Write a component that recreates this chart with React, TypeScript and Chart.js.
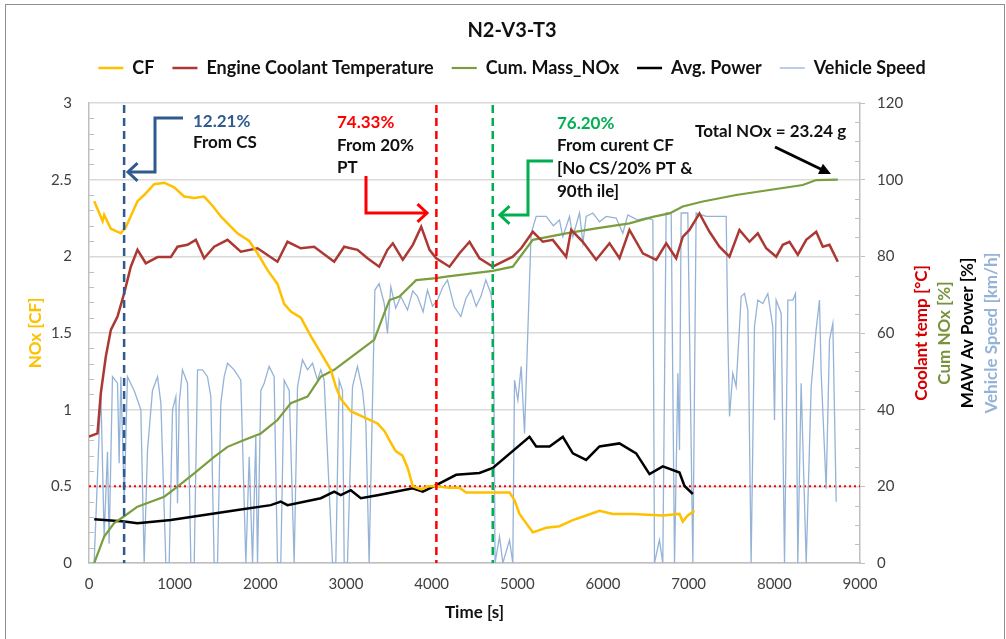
import React, { useEffect, useRef } from 'react';
import { Chart, registerables } from 'chart.js';

Chart.register(...registerables);

const FONT = 'Lato, "Open Sans", sans-serif';

// ---- Data (time in s) ----
const cfTime = [61, 158, 177, 255, 371, 430, 566, 644, 761, 878, 994, 1111, 1228, 1344, 1442, 1539, 1733, 1870, 1967, 2084, 2200, 2278, 2356, 2473, 2589, 2706, 2823, 2881, 2939, 3056, 3212, 3368, 3450, 3508, 3580, 3660, 3720, 3780, 3878, 3960, 4053, 4200, 4325, 4403, 4909, 4967, 5025, 5103, 5181, 5337, 5492, 5648, 5804, 5959, 6115, 6348, 6698, 6893, 6931, 6990, 7068];
const cfValue = [2.36, 2.23, 2.27, 2.18, 2.15, 2.19, 2.36, 2.4, 2.47, 2.48, 2.45, 2.39, 2.38, 2.39, 2.33, 2.26, 2.15, 2.1, 2.02, 1.91, 1.82, 1.69, 1.64, 1.6, 1.48, 1.37, 1.26, 1.15, 1.07, 0.99, 0.95, 0.91, 0.86, 0.8, 0.73, 0.7, 0.62, 0.5, 0.48, 0.5, 0.5, 0.49, 0.49, 0.46, 0.46, 0.41, 0.32, 0.26, 0.2, 0.23, 0.24, 0.28, 0.31, 0.34, 0.32, 0.32, 0.31, 0.32, 0.27, 0.31, 0.34];

const coolantTime = [0, 99, 138, 196, 255, 333, 411, 488, 566, 663, 800, 955, 1033, 1150, 1247, 1344, 1461, 1617, 1772, 1967, 2200, 2317, 2473, 2628, 2862, 2979, 3134, 3251, 3387, 3484, 3547, 3663, 3780, 3878, 3975, 4053, 4208, 4325, 4442, 4558, 4714, 4947, 5045, 5181, 5298, 5414, 5570, 5629, 5764, 5920, 6076, 6193, 6309, 6465, 6621, 6738, 6854, 6931, 7009, 7126, 7243, 7359, 7476, 7593, 7710, 7807, 7905, 8022, 8099, 8177, 8274, 8372, 8489, 8566, 8644, 8741];
const coolantValue = [33.0, 33.8, 44.3, 53.8, 60.8, 64.3, 70.4, 77.3, 81.7, 78.2, 79.8, 79.8, 82.5, 83.0, 84.3, 79.5, 82.5, 84.3, 81.2, 82.1, 78.6, 83.8, 82.1, 82.5, 78.6, 82.5, 81.7, 79.5, 77.3, 81.7, 83.4, 79.1, 83.0, 87.7, 81.7, 79.5, 77.3, 80.8, 83.8, 79.5, 77.3, 79.9, 82.1, 86.4, 83.8, 84.3, 79.9, 86.9, 83.8, 79.1, 83.4, 79.5, 86.9, 80.8, 79.1, 83.4, 79.5, 85.1, 86.9, 91.2, 86.4, 82.5, 79.9, 86.9, 83.8, 86.0, 82.1, 79.9, 83.0, 83.8, 80.4, 84.3, 86.4, 82.5, 83.0, 78.6];

const cumNoxTime = [61, 119, 177, 294, 411, 566, 722, 878, 1033, 1228, 1461, 1617, 1811, 2006, 2200, 2356, 2551, 2706, 2862, 3017, 3173, 3329, 3446, 3508, 3624, 3819, 4055, 4170, 4713, 4947, 5064, 5181, 5570, 5920, 6309, 6581, 6776, 6931, 7165, 7554, 7943, 8332, 8489, 8741];
const cumNoxValue = [0, 3.4, 6.9, 10.4, 12.2, 14.7, 16.0, 17.3, 19.9, 23.4, 27.7, 30.3, 32.1, 33.8, 37.3, 41.7, 43.4, 48.6, 50.4, 53.0, 55.6, 58.2, 65.1, 68.6, 69.5, 73.8, 74.3, 74.7, 76.2, 77.3, 80.8, 84.3, 86.0, 87.3, 88.6, 90.3, 91.2, 93.0, 94.3, 96.0, 97.3, 98.6, 99.9, 100];

const powerTime = [61, 411, 566, 955, 1344, 1733, 2122, 2239, 2317, 2706, 2862, 2939, 3056, 3173, 3368, 3780, 3897, 4053, 4286, 4558, 4714, 5142, 5220, 5376, 5531, 5648, 5803, 5959, 6192, 6387, 6543, 6698, 6893, 6951, 7049];
const powerValue = [11.4, 10.8, 10.4, 11.2, 12.5, 13.8, 15.1, 16.0, 15.1, 16.9, 18.6, 17.7, 19.0, 16.9, 17.7, 19.5, 18.6, 20.3, 23.0, 23.5, 24.8, 32.9, 30.4, 30.4, 32.9, 28.6, 26.9, 30.4, 31.2, 28.6, 23.2, 25.2, 23.6, 20.1, 18.0];

const speedTime = [0, 60, 138, 177, 216, 235, 274, 333, 352, 372, 411, 449, 527, 605, 644, 683, 741, 800, 839, 897, 936, 975, 1014, 1033, 1053, 1091, 1150, 1189, 1228, 1267, 1325, 1383, 1422, 1461, 1500, 1539, 1578, 1617, 1695, 1772, 1831, 1870, 1909, 1947, 1967, 2006, 2045, 2103, 2161, 2200, 2239, 2278, 2337, 2395, 2434, 2492, 2551, 2609, 2667, 2706, 2745, 2842, 2881, 2920, 2959, 2979, 3017, 3076, 3134, 3193, 3232, 3270, 3309, 3337, 3387, 3446, 3484, 3523, 3580, 3640, 3718, 3780, 3835, 3900, 3951, 4010, 4068, 4130, 4185, 4263, 4340, 4400, 4457, 4520, 4574, 4632, 4691, 4722, 4740, 4792, 4831, 4909, 4947, 4967, 5006, 5045, 5084, 5122, 5161, 5220, 5337, 5420, 5492, 5531, 5609, 5648, 5726, 5765, 5803, 5881, 5960, 6037, 6154, 6231, 6290, 6400, 6504, 6582, 6601, 6659, 6698, 6737, 6796, 6835, 6874, 6893, 6912, 6990, 7049, 7087, 7204, 7360, 7438, 7457, 7477, 7515, 7554, 7613, 7652, 7691, 7729, 7768, 7807, 7866, 7924, 7982, 8002, 8021, 8080, 8119, 8158, 8216, 8247, 8274, 8313, 8372, 8430, 8488, 8527, 8547, 8605, 8644, 8683, 8722];
const speedValue = [0, 0, 45, 7, 29, 5, 48.6, 46.9, 26, 48.6, 16.4, 48.6, 45, 40, 0, 29.4, 45, 48.6, 41.7, 0, 0, 40, 43.4, 15.6, 41.7, 50.4, 46.9, 0, 0, 50.4, 50.4, 48.6, 43.4, 0, 0, 41.7, 48.6, 52.1, 50.4, 47.7, 0, 27.7, 0, 32.9, 0, 45, 46.9, 51.3, 48.6, 0, 0, 47.7, 45, 0, 46, 53, 50.4, 52.1, 47.7, 50.4, 47.7, 0, 0, 47.7, 45, 0, 0, 46, 51.3, 45, 36.4, 0, 41.7, 71.2, 72.9, 67.7, 59.9, 72.1, 66.5, 69.5, 66, 71, 69.5, 65.5, 71.2, 67, 68.6, 72, 73.8, 66.9, 64.3, 69, 71.2, 67, 69.5, 73.8, 70.3, 64.3, 0, 6.9, 0, 6, 0, 47.7, 42.5, 51.3, 33.8, 60, 86, 90.4, 90.4, 88, 89.5, 85.1, 90.4, 85.1, 91.3, 83.4, 90.4, 91.3, 89, 90.4, 90, 86, 90.8, 89.5, 90, 89.5, 0, 6, 0, 91.3, 91.3, 0, 49.5, 29.5, 91.3, 91.3, 0, 91.3, 90.4, 90.4, 90.4, 60, 38.2, 49.5, 46, 69.5, 70.3, 66, 0, 61.6, 68.6, 67.7, 70.3, 61.6, 37.3, 68.6, 65.1, 0, 68.6, 68.6, 70.3, 0, 46.9, 0, 46, 60.8, 68.6, 49.5, 19.4, 58.2, 62.5, 16];

const xTickValues = [0, 1000, 2000, 3000, 4000, 5000, 6000, 7000, 8000, 9000];
const leftTickValues = [0, 0.5, 1, 1.5, 2, 2.5, 3];
const rightTickValues = [0, 20, 40, 60, 80, 100, 120];

// marker times / reference level
const csLineTime = 410;
const ptLineTime = 4055;
const cfLineTime = 4713;
const cfLimit = 0.5;

const toPoints = (ts: number[], vs: number[]) => ts.map((t, i) => ({ x: t, y: vs[i] }));

function drawChevronPath(ctx: CanvasRenderingContext2D, pts: number[][], color: string) {
  ctx.save();
  ctx.strokeStyle = color;
  ctx.lineWidth = 3;
  ctx.lineJoin = 'miter';
  ctx.beginPath();
  ctx.moveTo(pts[0][0], pts[0][1]);
  for (let i = 1; i < pts.length; i++) ctx.lineTo(pts[i][0], pts[i][1]);
  ctx.stroke();
  const [x1, y1] = pts[pts.length - 2];
  const [x2, y2] = pts[pts.length - 1];
  const a = Math.atan2(y2 - y1, x2 - x1);
  const L = 13;
  ctx.beginPath();
  ctx.moveTo(x2 - L * Math.cos(a - 0.75), y2 - L * Math.sin(a - 0.75));
  ctx.lineTo(x2, y2);
  ctx.lineTo(x2 - L * Math.cos(a + 0.75), y2 - L * Math.sin(a + 0.75));
  ctx.stroke();
  ctx.restore();
}

const annotationPlugin = {
  id: 'annotations',
  beforeDatasetsDraw(chart: any) {
    const { ctx, chartArea: ca, scales } = chart;
    ctx.save();
    // minor ticks
    ctx.strokeStyle = '#BFBFBF';
    ctx.lineWidth = 1;
    for (let k = 1; k < 30; k++) {
      if (k % 5 === 0) continue;
      const y = Math.round(scales.y.getPixelForValue(k / 10)) + 0.5;
      ctx.beginPath();
      ctx.moveTo(ca.left, y);
      ctx.lineTo(ca.left + 5, y);
      ctx.stroke();
    }
    for (let v = 5; v < 120; v += 5) {
      if (v % 20 === 0) continue;
      const y = Math.round(scales.y1.getPixelForValue(v)) + 0.5;
      ctx.beginPath();
      ctx.moveTo(ca.right - 5, y);
      ctx.lineTo(ca.right, y);
      ctx.stroke();
    }
    // CF limit dotted line
    const yl = scales.y.getPixelForValue(cfLimit);
    ctx.strokeStyle = '#FF0000';
    ctx.lineWidth = 2;
    ctx.setLineDash([2, 3]);
    ctx.beginPath();
    ctx.moveTo(ca.left, yl);
    ctx.lineTo(ca.right, yl);
    ctx.stroke();
    ctx.restore();
  },
  afterDatasetsDraw(chart: any) {
    const { ctx, chartArea: ca, scales } = chart;
    ctx.save();
    const vlines = [
      { t: csLineTime, color: '#2F5A8F' },
      { t: ptLineTime, color: '#FF0000' },
      { t: cfLineTime, color: '#00B050' },
    ];
    ctx.lineWidth = 2.5;
    ctx.setLineDash([8, 5]);
    vlines.forEach((l) => {
      const x = scales.x.getPixelForValue(l.t);
      ctx.strokeStyle = l.color;
      ctx.beginPath();
      ctx.moveTo(x, ca.top + 2);
      ctx.lineTo(x, ca.bottom);
      ctx.stroke();
    });
    ctx.setLineDash([]);
    ctx.restore();

    drawChevronPath(ctx, [[183, 118], [155, 118], [155, 172], [128, 172]], '#2F5A8F');
    drawChevronPath(ctx, [[366, 176], [366, 213], [427, 213]], '#FF0000');
    drawChevronPath(ctx, [[553, 161], [528, 161], [528, 215], [500, 215]], '#00B050');

    // black arrow
    ctx.save();
    ctx.strokeStyle = '#000';
    ctx.fillStyle = '#000';
    ctx.lineWidth = 3;
    const sx = 775, sy = 147, tx = 831, ty = 174;
    const a = Math.atan2(ty - sy, tx - sx);
    const hl = 13;
    ctx.beginPath();
    ctx.moveTo(sx, sy);
    ctx.lineTo(tx - hl * Math.cos(a) * 0.8, ty - hl * Math.sin(a) * 0.8);
    ctx.stroke();
    ctx.beginPath();
    ctx.moveTo(tx, ty);
    ctx.lineTo(tx - hl * Math.cos(a - 0.45), ty - hl * Math.sin(a - 0.45));
    ctx.lineTo(tx - hl * Math.cos(a + 0.45), ty - hl * Math.sin(a + 0.45));
    ctx.closePath();
    ctx.fill();
    ctx.restore();

    // texts
    ctx.save();
    ctx.font = `bold 17px ${FONT}`;
    ctx.textAlign = 'left';
    ctx.textBaseline = 'middle';
    const texts: [string, number, number, string][] = [
      ['12.21%', 193, 122, '#2F5A8F'],
      ['From CS', 193, 143, '#111'],
      ['74.33%', 337, 123, '#FF0000'],
      ['From 20%', 337, 146, '#111'],
      ['PT', 337, 168, '#111'],
      ['76.20%', 557, 124, '#00B050'],
      ['From curent CF', 557, 146, '#111'],
      ['[No CS/20% PT &', 557, 169, '#111'],
      ['90th ile]', 557, 192, '#111'],
      ['Total NOx = 23.24 g', 695, 132, '#111'],
    ];
    texts.forEach(([s, x, y, c]) => {
      ctx.fillStyle = c;
      ctx.fillText(s, x, y);
    });
    ctx.restore();
  },
  afterDraw(chart: any) {
    const { ctx, chartArea: ca } = chart;
    const cy = (ca.top + ca.bottom) / 2;
    const titles: [string, string, number][] = [
      ['Coolant temp [°C]', '#D40000', 62],
      ['Cum NOx [%]', '#77933C', 85],
      ['MAW Av Power [%]', '#000000', 108],
      ['Vehicle Speed [km/h]', '#95B3D7', 132],
    ];
    ctx.save();
    ctx.font = `bold 17px ${FONT}`;
    ctx.textAlign = 'center';
    ctx.textBaseline = 'middle';
    titles.forEach(([s, c, dx]) => {
      ctx.save();
      ctx.translate(ca.right + dx, cy);
      ctx.rotate(-Math.PI / 2);
      ctx.fillStyle = c;
      ctx.fillText(s, 0, 0);
      ctx.restore();
    });
    ctx.restore();
  },
};

export default function App() {
  const ref = useRef<HTMLCanvasElement | null>(null);

  useEffect(() => {
    if (!ref.current) return;
    const tickFont = { family: FONT, size: 15 };
    const titleFont = { family: FONT, size: 17, weight: 'bold' as const };
    const plain = (v: any) => String(v);
    const chart = new Chart(ref.current, {
      type: 'line',
      data: {
        datasets: [
          { label: 'CF', data: toPoints(cfTime, cfValue), borderColor: '#FFC000', backgroundColor: '#FFC000', borderWidth: 2.5, yAxisID: 'y', pointRadius: 0 },
          { label: 'Engine Coolant Temperature', data: toPoints(coolantTime, coolantValue), borderColor: '#AC3833', backgroundColor: '#AC3833', borderWidth: 2.5, yAxisID: 'y1', pointRadius: 0 },
          { label: 'Cum. Mass_NOx', data: toPoints(cumNoxTime, cumNoxValue), borderColor: '#7A9E3E', backgroundColor: '#7A9E3E', borderWidth: 2.2, yAxisID: 'y1', pointRadius: 0 },
          { label: 'Avg. Power', data: toPoints(powerTime, powerValue), borderColor: '#000000', backgroundColor: '#000000', borderWidth: 2.5, yAxisID: 'y1', pointRadius: 0 },
          { label: 'Vehicle Speed', data: toPoints(speedTime, speedValue), borderColor: '#95B3D7', backgroundColor: '#95B3D7', borderWidth: 1.3, yAxisID: 'y1', pointRadius: 0 },
        ],
      },
      options: {
        animation: false,
        responsive: false,
        maintainAspectRatio: false,
        layout: { padding: { left: 18, right: 0, top: 0, bottom: 0 } },
        plugins: {
          title: { display: true, text: 'N2-V3-T3', color: '#111', font: { family: FONT, size: 20, weight: 'bold', lineHeight: 1 }, padding: { top: 21, bottom: 0 } },
          subtitle: { display: true, text: '', weight: 500, padding: 0, font: { size: 16, lineHeight: 1 } } as any,
          legend: {
            display: true,
            position: 'top',
            labels: { usePointStyle: true, pointStyle: 'line', pointStyleWidth: 25, padding: 18, color: '#111', font: { family: FONT, size: 18, weight: 'bold' } },
          },
          tooltip: { enabled: false },
        },
        scales: {
          x: {
            type: 'linear',
            min: 0,
            max: 9000,
            afterBuildTicks: (s: any) => { s.ticks = xTickValues.map((v) => ({ value: v })); },
            afterFit: (s: any) => { s.height = 76; },
            grid: { display: false, drawTicks: false },
            border: { display: true, color: '#BFBFBF', width: 1.5 },
            ticks: { padding: 12, color: '#404040', font: tickFont, maxRotation: 0, autoSkip: false, callback: plain },
            title: { display: true, text: 'Time [s]', color: '#111', font: titleFont, padding: { top: 0, bottom: 16 } },
          },
          y: {
            position: 'left',
            min: 0,
            max: 3,
            afterBuildTicks: (s: any) => { s.ticks = leftTickValues.map((v) => ({ value: v })); },
            afterFit: (s: any) => { s.width = 71; },
            grid: { color: '#D9D9D9', lineWidth: 1.5, drawTicks: false },
            border: { display: true, color: '#BFBFBF', width: 1.5 },
            ticks: { padding: 17, color: '#404040', font: tickFont, callback: plain },
            title: { display: true, text: 'NOx [CF]', color: '#FFC000', font: titleFont, padding: { top: 7, bottom: 0 } },
          },
          y1: {
            position: 'right',
            min: 0,
            max: 120,
            afterBuildTicks: (s: any) => { s.ticks = rightTickValues.map((v) => ({ value: v })); },
            afterFit: (s: any) => { s.width = 146; },
            grid: { drawOnChartArea: false, drawTicks: true, tickLength: 5, color: '#BFBFBF' },
            border: { display: true, color: '#BFBFBF', width: 1.5 },
            ticks: { padding: 12, color: '#404040', font: tickFont, callback: plain },
          },
        },
      } as any,
      plugins: [annotationPlugin],
    });
    return () => chart.destroy();
  }, []);

  return (
    <div style={{ position: 'absolute', left: 0, top: 0, width: 1006, height: 639, background: '#fff', overflow: 'hidden' }}>
      <canvas ref={ref} width={1006} height={639} style={{ position: 'absolute', left: 0, top: 0, width: 1006, height: 639 }} />
      <div style={{ position: 'absolute', left: 5, top: 4, width: 998, height: 660, border: '1px solid #8F8F8F', pointerEvents: 'none' }} />
    </div>
  );
}
